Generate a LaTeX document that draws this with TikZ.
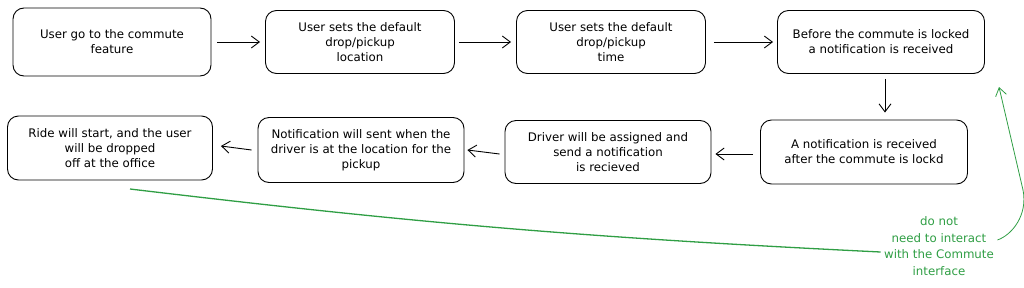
\documentclass[tikz,border=0pt]{standalone}
\usepackage{fontspec}
\setmainfont{DejaVu Sans}
\usepackage{tikz}
\usetikzlibrary{positioning, arrows.meta}
\usepackage{xcolor}
\definecolor{notegreen}{RGB}{47,158,68}

\begin{document}
\begin{tikzpicture}[x=1pt, y=-1pt,
    stepbox/.style={draw, line width=0.9pt, rounded corners=11pt, align=center,
        font=\fontsize{11.8}{15}\selectfont, inner sep=2pt},
    flow/.style={-{Straight Barb[length=8pt, width=12pt]}, line width=0.9pt},
    note/.style={align=center, text=notegreen, font=\fontsize{11.8}{16.5}\selectfont}]
    \useasboundingbox (0,0) rectangle (1024,287);

    % Top row
    \node[stepbox, minimum width=198pt, minimum height=68pt] (goto) at (112,42)
        {User go to the commute\\feature};
    \node[stepbox, minimum width=189pt, minimum height=63pt] (setloc) at (360,42)
        {User sets the default\\drop/pickup\\location};
    \node[stepbox, minimum width=189pt, minimum height=63pt] (settime) at (611,42)
        {User sets the default\\drop/pickup\\time};
    \node[stepbox, minimum width=207pt, minimum height=63pt] (before) at (881,42)
        {Before the commute is locked\\a notification is received};

    % Bottom row
    \node[stepbox, minimum width=207pt, minimum height=64pt] (after) at (864,152)
        {A notification is received\\after the commute is lockd};
    \node[stepbox, minimum width=206pt, minimum height=63pt] (driver) at (608,152)
        {Driver will be assigned and\\send a notification\\is recieved};
    \node[stepbox, minimum width=206pt, minimum height=65pt] (atloc) at (361,150)
        {Notification will sent when the\\driver is at the location for the\\pickup};
    \node[stepbox, minimum width=205pt, minimum height=64pt] (ride) at (110,148)
        {Ride will start, and the user\\will be dropped\\off at the office};

    % Flow arrows
    \draw[flow] ([xshift=6pt]goto.east) -- ([xshift=-5pt]setloc.west);
    \draw[flow] ([xshift=4pt]setloc.east) -- ([xshift=-5pt]settime.west);
    \draw[flow] ([xshift=8pt]settime.east) -- ([xshift=-4pt]before.west);
    \draw[flow] ([xshift=4pt, yshift=-5pt]before.south) -- ([xshift=21pt, yshift=7pt]after.north);
    \draw[flow] ([xshift=-7pt, yshift=-2pt]after.west) -- ([xshift=4pt, yshift=-2pt]driver.east);
    \draw[flow] ([xshift=-5pt, yshift=-2pt]driver.west) -- ([xshift=3pt]atloc.east);
    \draw[flow] ([xshift=-6pt]atloc.west) -- ([xshift=8pt, yshift=2pt]ride.east);

    % Side note
    \node[note] (hint) at (939,246) {do not\\need to interact\\with the Commute\\interface};
    \coordinate (linestart) at (130,189);
    \coordinate (hinttip) at (999,87);
    \draw[notegreen, line width=1.3pt] (linestart) to[bend right=2] ([yshift=-6pt]hint.west);
    \draw[notegreen, line width=0.8pt, -{Straight Barb[length=8pt, width=11pt]}]
        ([yshift=6pt]hint.east) .. controls (1012,235) and (1028,215) .. (1023,190) -- (hinttip);
\end{tikzpicture}
\end{document}
